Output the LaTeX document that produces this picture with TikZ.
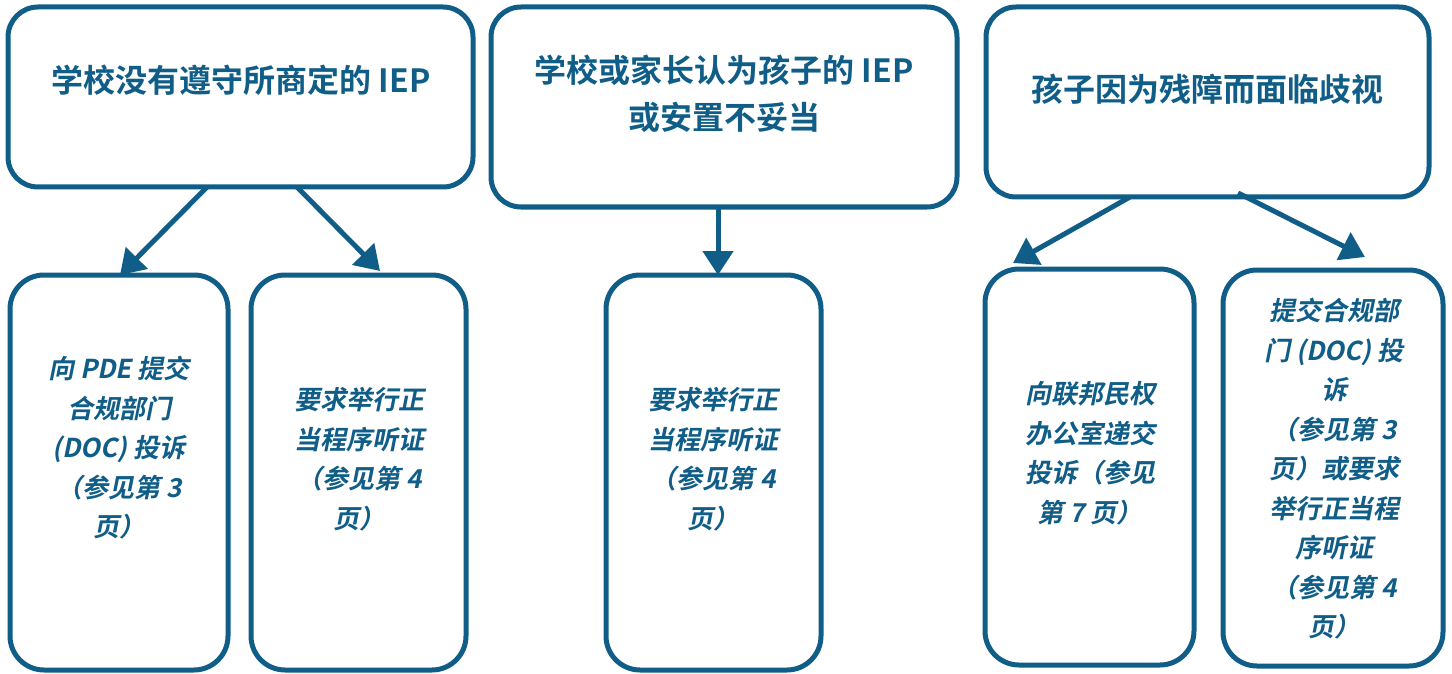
\documentclass[tikz,border=0pt]{standalone}
\usepackage{fontspec}
\usetikzlibrary{arrows.meta}
\newfontfamily\topfont{Noto Sans CJK SC Bold}
\newfontfamily\botfont{Noto Sans CJK SC Bold}[FakeSlant=0.2]
\definecolor{navy}{HTML}{105E88}
\tikzset{
  topbox/.style={draw=navy, line width=5pt, rounded corners=30pt, inner sep=0pt, outer sep=0pt, fill=white},
  botbox/.style={draw=navy, line width=5pt, rounded corners=34pt, inner sep=0pt, outer sep=0pt, fill=white},
  toptext/.style={text=navy, align=center, inner sep=0pt, font=\topfont\fontsize{32}{47}\selectfont},
  bottext/.style={text=navy, align=center, inner sep=0pt, font=\botfont\fontsize{26}{39.5}\selectfont},
  arr/.style={draw=navy, line width=5pt, -{Triangle[length=24pt,width=30pt]}}
}
\begin{document}
\begin{tikzpicture}[x=1pt,y=-1pt]
\useasboundingbox (0,0) rectangle (1452,674);
% top boxes
\node[topbox, minimum width=465pt, minimum height=180pt] (tl) at (240.5,97) {};
\node[topbox, minimum width=466pt, minimum height=200pt] (tm) at (724,107) {};
\node[topbox, minimum width=443pt, minimum height=190pt] (tr) at (1207.5,102) {};
% bottom boxes
\node[botbox, minimum width=218pt, minimum height=395pt] (b1) at (119,472.5) {};
\node[botbox, minimum width=215pt, minimum height=395pt] (b2) at (358.5,472.5) {};
\node[botbox, minimum width=215pt, minimum height=395pt] (b3) at (713.5,472.5) {};
\node[botbox, minimum width=209pt, minimum height=396pt] (b4) at (1089.5,467) {};
\node[botbox, minimum width=220pt, minimum height=396pt] (b5) at (1333,468) {};
% texts
\node[toptext] (ttl) at (241,80) {学校没有遵守所商定的 IEP};
\node[toptext] (ttm) at (724,94) {学校或家长认为孩子的 IEP\\或安置不妥当};
\node[toptext] (ttr) at (1207,89) {孩子因为残障而面临歧视};
\node[bottext] (tb1) at (119,448) {向 PDE 提交\\合规部门\\(DOC) 投诉\\（参见第 3\\页）};
\node[bottext] (tb2) at (359,459) {要求举行正\\当程序听证\\（参见第 4\\页）};
\node[bottext] (tb3) at (713,459) {要求举行正\\当程序听证\\（参见第 4\\页）};
\node[bottext] (tb4) at (1090,453) {向联邦民权\\办公室递交\\投诉（参见\\第 7 页）};
\node[bottext] (tb5) at (1334,469) {提交合规部\\门 (DOC) 投\\诉\\（参见第 3\\页）或要求\\举行正当程\\序听证\\（参见第 4\\页）};
% arrows
\draw[arr] ([xshift=-33.5pt]tl.south) -- ([xshift=1pt]b1.north);
\draw[arr] ([xshift=56.5pt]tl.south) -- ([xshift=21.5pt,yshift=4pt]b2.north);
\draw[arr] ([xshift=-6pt,yshift=2pt]tm.south) -- ([xshift=4.5pt]b3.north);
\draw[arr] ([xshift=-77.5pt]tr.south) -- ([xshift=-76.5pt,yshift=6pt]b4.north);
\draw[arr] ([xshift=30.5pt,yshift=4pt]tr.south) -- ([xshift=32pt,yshift=13pt]b5.north);
\end{tikzpicture}
\end{document}
